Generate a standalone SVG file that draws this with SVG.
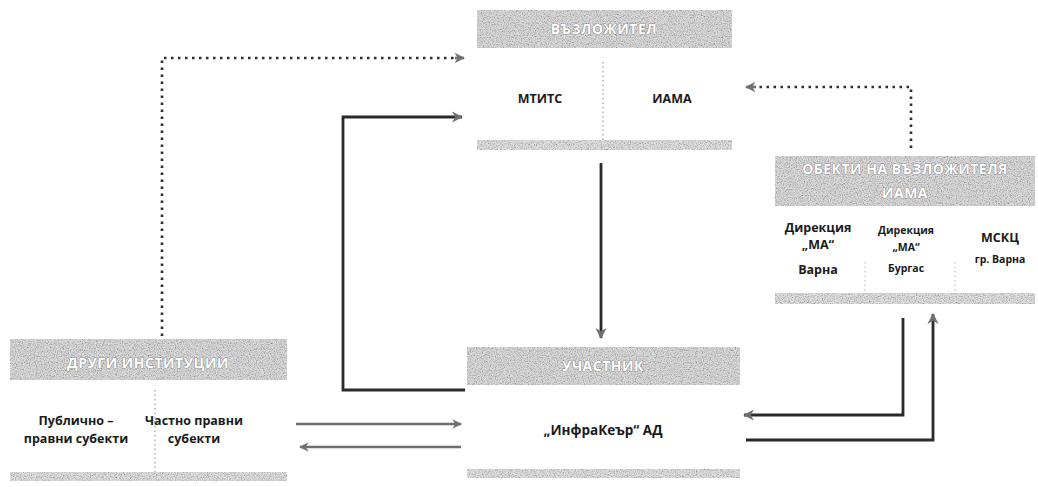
<svg xmlns="http://www.w3.org/2000/svg" width="1038" height="487" viewBox="0 0 1038 487">
  <style>
    .band { fill: #dadada; filter: url(#grain); }
    .foot { fill: #e0e0e0; filter: url(#grain); }
    .head { font-family: "Open Sans", "Liberation Sans", sans-serif; font-weight: 700; font-size: 14px; fill: #ffffff; stroke: #6a6a6a; stroke-width: 0.7; paint-order: stroke; text-anchor: middle; letter-spacing: 0.5px; }
    .lbl { font-family: "Open Sans", "Liberation Sans", sans-serif; font-weight: 700; font-size: 12.5px; fill: #1a1a1a; text-anchor: middle; }
    .sm { font-size: 10.5px; }
    .div { stroke: #9a9a9a; stroke-width: 1.2; stroke-dasharray: 1.5 3; fill: none; }
    .dots { stroke: #2e2e2e; stroke-width: 2.6; stroke-dasharray: 2.5 4.5; fill: none; }
    .solid { stroke: #2a2a2a; stroke-width: 2.8; fill: none; }
    .thin { stroke: #6e6e6e; stroke-width: 2.4; fill: none; }
  </style>
  <defs>
    <filter id="grain" x="0" y="0" width="1" height="1">
      <feTurbulence type="fractalNoise" baseFrequency="0.85" numOctaves="2" seed="4" result="t"/>
      <feColorMatrix in="t" type="saturate" values="0" result="g"/>
      <feComponentTransfer in="g" result="c">
        <feFuncR type="linear" slope="1.7" intercept="0.02"/>
        <feFuncG type="linear" slope="1.7" intercept="0.02"/>
        <feFuncB type="linear" slope="1.7" intercept="0.02"/>
        <feFuncA type="linear" slope="0" intercept="1"/>
      </feComponentTransfer>
      <feBlend in="SourceGraphic" in2="c" mode="multiply" result="b"/>
      <feComposite in="b" in2="SourceGraphic" operator="in"/>
    </filter>
    <marker id="arr" viewBox="0 0 10 10" refX="9" refY="5" markerWidth="4" markerHeight="4" orient="auto-start-reverse" markerUnits="strokeWidth">
      <path d="M0,0 L10,5 L0,10 L3,5 Z" fill="#707070"/>
    </marker>
  </defs>

  <rect width="1038" height="487" fill="#ffffff"/>

  <!-- Contracting authority -->
  <g id="node-vazlozhitel">
    <rect class="band" x="477" y="10" width="255" height="38"/>
    <text class="head" x="604" y="34">ВЪЗЛОЖИТЕЛ</text>
    <text class="lbl" x="540" y="103">МТИТС</text>
    <text class="lbl" x="672" y="103">ИАМА</text>
    <line class="div" x1="603" y1="62" x2="603" y2="140"/>
    <rect class="foot" x="477" y="140" width="255" height="10"/>
  </g>

  <!-- Sites of the contracting authority -->
  <g id="node-obekti">
    <rect class="band" x="775" y="156" width="260" height="50"/>
    <text class="head" x="905" y="174">ОБЕКТИ НА ВЪЗЛОЖИТЕЛЯ</text>
    <text class="head" x="905" y="198">ИАМА</text>
    <text class="lbl" x="818" y="232">Дирекция</text>
    <text class="lbl" x="818" y="249">„МА“</text>
    <text class="lbl" x="818" y="274">Варна</text>
    <text class="lbl sm" x="906" y="234">Дирекция</text>
    <text class="lbl sm" x="906" y="251">„МА“</text>
    <text class="lbl sm" x="906" y="272">Бургас</text>
    <text class="lbl" x="1000" y="242">МСКЦ</text>
    <text class="lbl sm" x="1000" y="263">гр. Варна</text>
    <line class="div" x1="865" y1="262" x2="865" y2="293" opacity="0.6"/>
    <line class="div" x1="955" y1="262" x2="955" y2="293" opacity="0.6"/>
    <rect class="foot" x="775" y="293" width="260" height="11"/>
  </g>

  <!-- Other institutions -->
  <g id="node-drugi">
    <rect class="band" x="10" y="339" width="277" height="41"/>
    <text class="head" x="148" y="368">ДРУГИ ИНСТИТУЦИИ</text>
    <text class="lbl" x="76" y="425">Публично –</text>
    <text class="lbl" x="76" y="443">правни субекти</text>
    <text class="lbl" x="194" y="425">Частно правни</text>
    <text class="lbl" x="194" y="443">субекти</text>
    <line class="div" x1="155" y1="390" x2="155" y2="474"/>
    <rect class="foot" x="10" y="472" width="277" height="9"/>
  </g>

  <!-- Participant -->
  <g id="node-uchastnik">
    <rect class="band" x="467" y="347" width="273" height="38"/>
    <text class="head" x="603" y="371">УЧАСТНИК</text>
    <text class="lbl" x="603" y="435" style="font-size:13.5px">„ИнфраКеър“ АД</text>
    <rect class="foot" x="467" y="469" width="273" height="9"/>
  </g>

  <!-- Connectors -->
  <g id="connectors">
    <path class="dots" d="M162,336 V58 H455" />
    <path d="M455,58 H464" stroke="#707070" stroke-width="2.6" marker-end="url(#arr)"/>
    <path class="dots" d="M911,148 V87 H756" />
    <path d="M756,87 H746" stroke="#707070" stroke-width="2.6" marker-end="url(#arr)"/>
    <path class="solid" d="M465,390 H343 V117 H462" marker-end="url(#arr)"/>
    <path class="solid" d="M601,163 V338" marker-end="url(#arr)"/>
    <path class="solid" d="M903,318 V415 H744" marker-end="url(#arr)"/>
    <path class="solid" d="M746,440 H933 V314" marker-end="url(#arr)"/>
    <path class="thin" d="M296,424 H461" marker-end="url(#arr)"/>
    <path class="thin" d="M461,447 H300" marker-end="url(#arr)"/>
  </g>
</svg>
